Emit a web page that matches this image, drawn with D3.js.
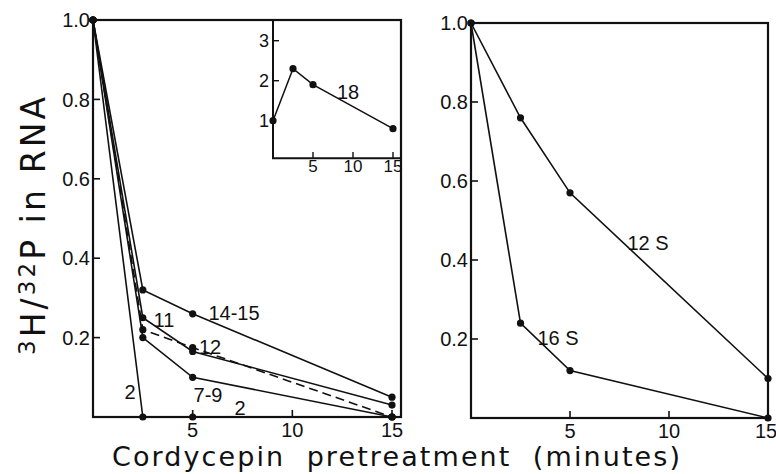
<!DOCTYPE html>
<html><head><meta charset="utf-8">
<script src="https://cdn.jsdelivr.net/npm/d3@7"></script>
<style>body{margin:0;background:#fff}svg{display:block}text{font-family:"Liberation Sans",Arial,sans-serif;fill:#111}.title{font-family:"DejaVu Sans","Liberation Sans",sans-serif}</style>
</head><body>
<svg id="c" width="776" height="474"></svg>
<script>
// ---- data ----
const minutes = [0, 2.5, 5, 15];
const leftSeries = [
  {name: "14-15", values: [1.0, 0.32, 0.26, 0.05], dashed: false},
  {name: "11",    values: [1.0, 0.25, 0.165, 0.03], dashed: false},
  {name: "12",    values: [1.0, 0.22, 0.175, 0.0], dashed: true},
  {name: "7-9",   values: [1.0, 0.20, 0.10, 0.0], dashed: false},
  {name: "2",     values: [1.0, 0.0, 0.0, 0.0], dashed: false}
];
const insetName = "18";
const insetValues = [1.0, 2.3, 1.9, 0.8];
const rightSeries = [
  {name: "12 S", values: [1.0, 0.76, 0.57, 0.10]},
  {name: "16 S", values: [1.0, 0.24, 0.12, 0.0]}
];
const yTicks = [0.2, 0.4, 0.6, 0.8, 1.0];
const yTickLabels = ["0.2", "0.4", "0.6", "0.8", "1.0"];
const xTicks = [5, 10, 15];
const insetYTicks = [1, 2, 3];
const insetXTicks = [5, 10, 15];

const svg = d3.select("#c");
const ink = "#111";

// ---- scales ----
const xL = d3.scaleLinear().domain([0, 15]).range([93, 392]);
const yL = d3.scaleLinear().domain([0, 1]).range([417, 20]);
const xR = d3.scaleLinear().domain([0, 15]).range([471, 768]);
const yR = d3.scaleLinear().domain([0, 1]).range([418, 23]);
const xI = d3.scaleLinear().domain([0, 15]).range([273, 393]);
const yI = d3.scaleLinear().domain([0, 3]).range([160.7, 40.7]);

function frame(x0, x1, y0, y1) {
  svg.append("rect").attr("x", x0).attr("y", y0).attr("width", x1 - x0).attr("height", y1 - y0)
    .attr("fill", "none").attr("stroke", ink).attr("stroke-width", 2.2);
}

function axes(x, y, fs, xLabelDy, tickLen, lastXShift) {
  const y0 = y(0), x0 = x(0);
  yTicks.forEach((t, i) => {
    svg.append("line").attr("x1", x0).attr("x2", x0 + tickLen).attr("y1", y(t)).attr("y2", y(t))
      .attr("stroke", ink).attr("stroke-width", 1.6);
    svg.append("text").attr("x", x0 - 3).attr("y", y(t)).attr("dy", "0.36em")
      .attr("text-anchor", "end").attr("font-size", fs).text(yTickLabels[i]);
  });
  xTicks.forEach((t, i) => {
    svg.append("line").attr("x1", x(t)).attr("x2", x(t)).attr("y1", y0).attr("y2", y0 - tickLen)
      .attr("stroke", ink).attr("stroke-width", 1.6);
    svg.append("text").attr("x", x(t) - (i === xTicks.length - 1 ? lastXShift : 0)).attr("y", y0 + xLabelDy)
      .attr("text-anchor", "middle").attr("font-size", fs).text(String(t));
  });
}

const line = (x, y) => d3.line().x((d, i) => x(minutes[i])).y(d => y(d));

function drawSeries(s, x, y) {
  svg.append("path").datum(s.values).attr("d", line(x, y)).attr("fill", "none")
    .attr("stroke", ink).attr("stroke-width", 1.6)
    .attr("stroke-dasharray", s.dashed ? "9,5" : null);
  svg.append("g").selectAll("circle").data(s.values).join("circle")
    .attr("cx", (d, i) => x(minutes[i])).attr("cy", d => y(d)).attr("r", 3.6).attr("fill", ink);
}

// ---- left panel ----
frame(xL(0), 401, yL(1), yL(0));
axes(xL, yL, 20, 20, 7, 0);
leftSeries.forEach(s => drawSeries(s, xL, yL));

// ---- inset ----
svg.append("path").attr("d", `M${xI(0)},${yL(1)}V158.3H401.5`).attr("fill", "none")
  .attr("stroke", ink).attr("stroke-width", 2);
insetYTicks.forEach(t => {
  if (t !== 1) svg.append("line").attr("x1", xI(0)).attr("x2", xI(0) + 6).attr("y1", yI(t)).attr("y2", yI(t))
    .attr("stroke", ink).attr("stroke-width", 1.4);
  svg.append("text").attr("x", xI(0) - 4).attr("y", yI(t)).attr("dy", "0.36em")
    .attr("text-anchor", "end").attr("font-size", 18).text(String(t));
});
insetXTicks.forEach(t => {
  svg.append("line").attr("x1", xI(t)).attr("x2", xI(t)).attr("y1", 158.3).attr("y2", 152)
    .attr("stroke", ink).attr("stroke-width", 1.4);
  svg.append("text").attr("x", xI(t)).attr("y", 172).attr("text-anchor", "middle")
    .attr("font-size", 17).text(String(t));
});
svg.append("path").datum(insetValues).attr("d", line(xI, yI)).attr("fill", "none")
  .attr("stroke", ink).attr("stroke-width", 1.5);
svg.append("g").selectAll("circle").data(insetValues).join("circle")
  .attr("cx", (d, i) => xI(minutes[i])).attr("cy", d => yI(d)).attr("r", 3.6).attr("fill", ink);
svg.append("text").attr("x", 348).attr("y", 99).attr("text-anchor", "middle").attr("font-size", 20).text(insetName);

// left labels
const leftLabels = [
  {t: leftSeries[0].name, x: 234, y: 320},
  {t: leftSeries[1].name, x: 164, y: 327},
  {t: leftSeries[2].name, x: 210, y: 354},
  {t: leftSeries[3].name, x: 208, y: 402},
  {t: leftSeries[4].name, x: 130, y: 399},
  {t: leftSeries[4].name, x: 240, y: 415}
];
leftLabels.forEach(l => svg.append("text").attr("x", l.x).attr("y", l.y).attr("text-anchor", "middle")
  .attr("font-size", 20).text(l.t));

// ---- right panel ----
frame(xR(0), xR(15), yR(1), yR(0));
axes(xR, yR, 20, 20, 7, 2);
rightSeries.forEach(s => drawSeries(s, xR, yR));
svg.append("text").attr("x", 648).attr("y", 250).attr("text-anchor", "middle").attr("font-size", 20).text(rightSeries[0].name);
svg.append("text").attr("x", 558).attr("y", 345).attr("text-anchor", "middle").attr("font-size", 20).text(rightSeries[1].name);

// ---- axis titles ----
svg.append("text").attr("class", "title").attr("x", 112).attr("y", 466).attr("font-size", 27)
  .attr("textLength", 568).attr("lengthAdjust", "spacing")
  .text("Cordycepin  pretreatment  (minutes)").style("white-space", "pre");

const yt = svg.append("text").attr("class", "title").attr("transform", "translate(45,355) rotate(-90)")
  .attr("font-size", 33).attr("textLength", 258).attr("lengthAdjust", "spacing");
yt.append("tspan").attr("font-size", 23).attr("dy", "-10").text("3");
yt.append("tspan").attr("dy", "10").text("H/");
yt.append("tspan").attr("font-size", 23).attr("dy", "-10").text("32");
yt.append("tspan").attr("dy", "10").text("P in RNA");
</script>
</body></html>
